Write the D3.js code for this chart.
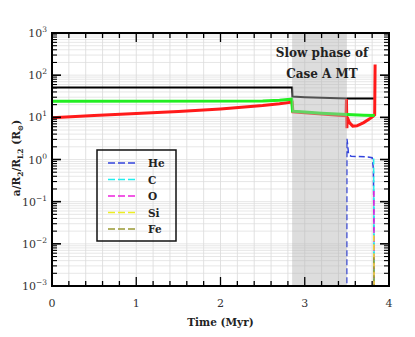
<!DOCTYPE html>
<html>
<head>
<meta charset="utf-8">
<script src="https://cdn.jsdelivr.net/npm/d3@7"></script>
<style>
body { margin: 0; background: #fff; }
</style>
</head>
<body>
<svg id="chart" width="415" height="337" font-family="'DejaVu Serif', serif"></svg>
<script>
// values (time in Myr, radius in Rsun)
let blackLine = [[0, 51], [2.85, 51], [2.855, 31], [3.0, 30], [3.2, 29], [3.5, 28], [3.82, 28]];
let greenLine = [[0, 24], [2.5, 24.5], [2.7, 25.5], [2.845, 27], [2.855, 14], [3.0, 13.3], [3.2, 12.5], [3.5, 11.6], [3.7, 11.2], [3.83, 11]];
let redLine = [[0, 9.8], [0.5, 11], [1, 12.3], [1.5, 13.8], [2, 15.8], [2.25, 17.3], [2.5, 19], [2.7, 21], [2.85, 23],
  [2.86, 13.5], [3.0, 12.8], [3.2, 12], [3.4, 11.2], [3.49, 11], [3.495, 27], [3.5, 5.5], [3.505, 10],
  [3.53, 7.5], [3.57, 6.2], [3.62, 6.3], [3.7, 7.5], [3.78, 9.5], [3.81, 10.5], [3.83, 11.5], [3.835, 180]];

let elements = ["He", "C", "O", "Si", "Fe"];
let elementColors = ["#3344dd", "#22eeee", "#ee22dd", "#eeee22", "#999933"];
let heLine = [[3.498, 1e-4], [3.5, 3.1], [3.51, 2.2], [3.52, 1.3], [3.55, 1.2], [3.75, 1.15], [3.8, 1.1], [3.815, 0.6], [3.82, 0.05], [3.822, 1e-4]];
let cLine = [[3.818, 1.05], [3.826, 1e-4]];
let oLine = [[3.82, 0.18], [3.826, 1e-4]];
let siLine = [[3.82, 0.016], [3.825, 1e-4]];
let feLine = [[3.82, 0.0048], [3.825, 1e-4]];
let elementLines = [heLine, cLine, oLine, siLine, feLine];

let slowPhase = [2.85, 3.5];
let xTicks = [0, 1, 2, 3, 4];
let yTicks = [-3, -2, -1, 0, 1, 2, 3];

let margin = {top: 33, right: 26, bottom: 51, left: 52};
let width = 415, height = 337;

let svg = d3.select("#chart");

let x = d3.scaleLinear().domain([0, 4]).range([margin.left, width - margin.right]);
let y = d3.scaleLog().domain([1e-3, 1e3]).range([height - margin.bottom, margin.top]);

// minor positions
let xMinor = d3.range(0, 4.001, 0.2);
let yMinor = [];
for (let e = -3; e < 3; e++) for (let m = 1; m < 10; m++) yMinor.push(m * Math.pow(10, e));
yMinor.push(1e3);

// grid
let grid = svg.append("g");
grid.selectAll(".gx").data(xMinor).enter().append("line")
  .attr("x1", d => x(d)).attr("x2", d => x(d))
  .attr("y1", y(1e-3)).attr("y2", y(1e3))
  .attr("stroke", "#d4d4d4").attr("stroke-width", 0.7);
grid.selectAll(".gy").data(yMinor).enter().append("line")
  .attr("x1", x(0)).attr("x2", x(4))
  .attr("y1", d => y(d)).attr("y2", d => y(d))
  .attr("stroke", "#dcdcdc").attr("stroke-width", 0.7);

// lines
let clip = svg.append("clipPath").attr("id", "clip").append("rect")
  .attr("x", x(0)).attr("y", y(1e3)).attr("width", x(4) - x(0)).attr("height", y(1e-3) - y(1e3));
let plot = svg.append("g").attr("clip-path", "url(#clip)");
let line = d3.line().x(d => x(d[0])).y(d => y(d[1]));

plot.append("path").datum(blackLine).attr("d", line).attr("fill", "none").attr("stroke", "#000").attr("stroke-width", 2);
plot.append("path").datum(redLine).attr("d", line).attr("fill", "none").attr("stroke", "#ff1a1a").attr("stroke-width", 3);
plot.append("path").datum(greenLine).attr("d", line).attr("fill", "none").attr("stroke", "#22ee22").attr("stroke-width", 3);

elementLines.forEach((l, i) => {
  plot.append("path").datum(l).attr("d", line).attr("fill", "none")
    .attr("stroke", elementColors[i]).attr("stroke-width", 1.5).attr("stroke-dasharray", "6,3");
});

// slow phase band
plot.append("rect")
  .attr("x", x(slowPhase[0])).attr("width", x(slowPhase[1]) - x(slowPhase[0]))
  .attr("y", y(1e3)).attr("height", y(1e-3) - y(1e3))
  .attr("fill", "#b4b4b4").attr("opacity", 0.45);

// ticks
let ax = svg.append("g").attr("stroke", "#000");
xMinor.forEach(t => {
  let major = Math.abs(t - Math.round(t)) < 1e-6;
  let len = major ? 9 : 5;
  ax.append("line").attr("x1", x(t)).attr("x2", x(t)).attr("y1", y(1e-3)).attr("y2", y(1e-3) - len).attr("stroke-width", 1.3);
  ax.append("line").attr("x1", x(t)).attr("x2", x(t)).attr("y1", y(1e3)).attr("y2", y(1e3) + len).attr("stroke-width", 1.3);
});
yMinor.forEach(v => {
  let major = Math.abs(Math.log10(v) - Math.round(Math.log10(v))) < 1e-6;
  let len = major ? 9 : 5;
  ax.append("line").attr("x1", x(0)).attr("x2", x(0) + len).attr("y1", y(v)).attr("y2", y(v)).attr("stroke-width", major ? 1.6 : 1.1);
  ax.append("line").attr("x1", x(4)).attr("x2", x(4) - len).attr("y1", y(v)).attr("y2", y(v)).attr("stroke-width", major ? 1.6 : 1.1);
});

svg.append("rect").attr("x", x(0)).attr("y", y(1e3)).attr("width", x(4) - x(0)).attr("height", y(1e-3) - y(1e3))
  .attr("fill", "none").attr("stroke", "#000").attr("stroke-width", 2);

// tick labels
svg.selectAll(".xl").data(xTicks).enter().append("text")
  .attr("x", d => x(d)).attr("y", y(1e-3) + 21).attr("text-anchor", "middle")
  .attr("font-size", 11).attr("fill", "#333").text(d => d);

svg.selectAll(".yl").data(yTicks).enter().append("text")
  .attr("x", x(0) - 5).attr("y", d => y(Math.pow(10, d)) + 4).attr("text-anchor", "end")
  .attr("font-size", 11).attr("fill", "#333")
  .each(function(d) {
    let t = d3.select(this);
    t.append("tspan").text("10");
    t.append("tspan").attr("dy", -5).attr("font-size", 7.5).text(d < 0 ? "\u2212" + (-d) : d);
  });

// axis titles
svg.append("text").attr("x", (x(0) + x(4)) / 2).attr("y", 326).attr("text-anchor", "middle")
  .attr("font-size", 10.5).attr("font-weight", "bold").attr("fill", "#222").text("Time (Myr)");

let yt = svg.append("text").attr("transform", "translate(20,158) rotate(-90)").attr("text-anchor", "middle")
  .attr("font-size", 10.5).attr("font-weight", "bold").attr("fill", "#222");
yt.append("tspan").text("a/R");
yt.append("tspan").attr("dy", 3).attr("font-size", 7.5).text("2");
yt.append("tspan").attr("dy", -3).text("/R");
yt.append("tspan").attr("dy", 3).attr("font-size", 7.5).text("L2");
yt.append("tspan").attr("dy", -3).text(" (R");
yt.append("tspan").attr("dy", 3).attr("font-size", 7.5).text("\u2299");
yt.append("tspan").attr("dy", -3).text(")");

// annotation
svg.append("text").attr("x", 322).attr("y", 57).attr("text-anchor", "middle")
  .attr("font-size", 12).attr("font-weight", "bold").attr("fill", "#222").text("Slow phase of");
svg.append("text").attr("x", 322).attr("y", 78).attr("text-anchor", "middle")
  .attr("font-size", 12).attr("font-weight", "bold").attr("fill", "#222").text("Case A MT");

// legend
let lg = svg.append("g");
lg.append("rect").attr("x", 97).attr("y", 150).attr("width", 79).attr("height", 91)
  .attr("fill", "none").attr("stroke", "#111").attr("stroke-width", 1.5);
elements.forEach((el, i) => {
  let ly = 163 + i * 16.5;
  lg.append("line").attr("x1", 108).attr("x2", 136).attr("y1", ly).attr("y2", ly)
    .attr("stroke", elementColors[i]).attr("stroke-width", 1.5).attr("stroke-dasharray", "7,3");
  lg.append("text").attr("x", 148).attr("y", ly + 4).attr("font-size", 10.5).attr("font-weight", "bold")
    .attr("fill", "#222").text(el);
});
</script>
</body>
</html>
